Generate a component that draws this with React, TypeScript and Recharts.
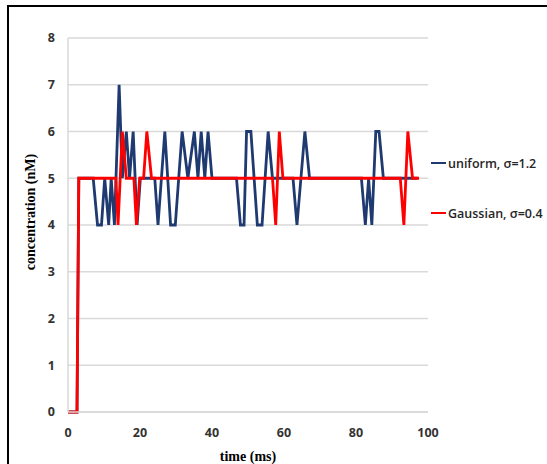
import React from 'react';
import { LineChart, Line, XAxis, YAxis, CartesianGrid } from 'recharts';

// time points (ms) and concentration (nM)
const uniformTime = [0, 2.5, 3, 7, 8.2, 9.3, 10.2, 11.3, 12, 12.9, 14.2, 15.1, 16.2, 17.1, 18.1, 19.2, 20.1, 24.1, 25, 26.9, 28.5, 29.8, 31.7, 33.3, 35.1, 36.1, 37, 38, 38.9, 40, 46.8, 47.9, 48.9, 49.6, 50.8, 52.6, 53.9, 55.6, 56.8, 62.5, 63.6, 65.8, 67.1, 81.5, 82.6, 83.5, 84.4, 85.5, 86.4, 87.6, 97];
const uniformConc = [0, 0, 5, 5, 4, 4, 5, 4, 5, 4, 7, 5, 6, 5, 6, 4, 5, 5, 4, 6, 4, 4, 6, 5, 6, 5, 6, 5, 6, 5, 5, 4, 4, 6, 6, 4, 4, 6, 5, 5, 4, 6, 5, 5, 4, 5, 4, 6, 6, 5, 5];

const gaussianTime = [0, 2.5, 3, 13.3, 13.9, 15.1, 16.2, 18.3, 19, 19.9, 21, 21.9, 23.2, 56.8, 57.7, 58.7, 59.7, 92.3, 93.3, 94.4, 95.7, 97.5];
const gaussianConc = [0, 0, 5, 5, 4, 6, 5, 5, 4, 5, 5, 6, 5, 5, 4, 6, 5, 5, 4, 6, 5, 5];

const timeTicks = [0, 20, 40, 60, 80, 100];
const concTicks = [0, 1, 2, 3, 4, 5, 6, 7, 8];

const series = [
  { name: 'uniform, σ=1.2', color: '#1F3A70' },
  { name: 'Gaussian, σ=0.4', color: '#FF0000' },
];

const tickStyle = { fill: '#333', fontSize: 12.5, fontWeight: 700, fontFamily: '"Open Sans", sans-serif' };
const titleStyle = { fill: '#000', fontSize: 14, fontWeight: 700, fontFamily: '"Liberation Serif", serif' };

export default function App() {
  const uniformData = uniformTime.map((t, i) => ({ t, c: uniformConc[i] }));
  const gaussianData = gaussianTime.map((t, i) => ({ t, c: gaussianConc[i] }));

  return (
    <div style={{ position: 'relative', width: 547, height: 464, background: '#fff', overflow: 'hidden' }}>
      <style>{'body{margin:0}'}</style>
      <div
        style={{
          position: 'absolute', left: 7, top: 5, right: 0, bottom: 0,
          borderTop: '2.5px solid #000', borderLeft: '2.5px solid #000',
        }}
      />
      <LineChart
        width={547}
        height={464}
        margin={{ top: 38, right: 119, left: 0, bottom: 0 }}
        style={{ position: 'absolute', left: 0, top: 0 }}
      >
        <CartesianGrid vertical={false} stroke="#d9d9d9" strokeWidth={1.5} />
        <XAxis
          type="number"
          dataKey="t"
          domain={[0, 100]}
          ticks={timeTicks}
          height={52}
          axisLine={{ stroke: '#d9d9d9', strokeWidth: 1.5 }}
          tickLine={false}
          tickSize={0}
          tickMargin={16}
          tick={tickStyle}
          label={{ value: 'time (ms)', position: 'insideBottom', offset: 3, style: titleStyle }}
        />
        <YAxis
          type="number"
          domain={[0, 8]}
          ticks={concTicks}
          width={68}
          axisLine={{ stroke: '#d9d9d9', strokeWidth: 1.5 }}
          tickLine={false}
          tickSize={0}
          tickMargin={13}
          tick={tickStyle}
          label={{
            value: 'concentration (nM)',
            angle: -90,
            position: 'insideLeft',
            offset: 30,
            dy: -13,
            style: { ...titleStyle, textAnchor: 'middle' },
          }}
        />
        <Line
          data={uniformData}
          dataKey="c"
          name={series[0].name}
          type="linear"
          stroke={series[0].color}
          strokeWidth={2.8}
          dot={false}
          isAnimationActive={false}
        />
        <Line
          data={gaussianData}
          dataKey="c"
          name={series[1].name}
          type="linear"
          stroke={series[1].color}
          strokeWidth={2.8}
          dot={false}
          isAnimationActive={false}
        />
      </LineChart>
      {series.map((s, i) => (
        <div
          key={s.name}
          style={{
            position: 'absolute', left: 431, top: 155 + i * 50, height: 16,
            display: 'flex', alignItems: 'center', whiteSpace: 'nowrap',
            fontFamily: '"Open Sans", sans-serif', fontSize: 12.5, fontWeight: 600, color: '#262626',
          }}
        >
          <span style={{ display: 'inline-block', width: 15, height: 2.5, background: s.color, marginRight: 2 }} />
          {s.name}
        </div>
      ))}
    </div>
  );
}
